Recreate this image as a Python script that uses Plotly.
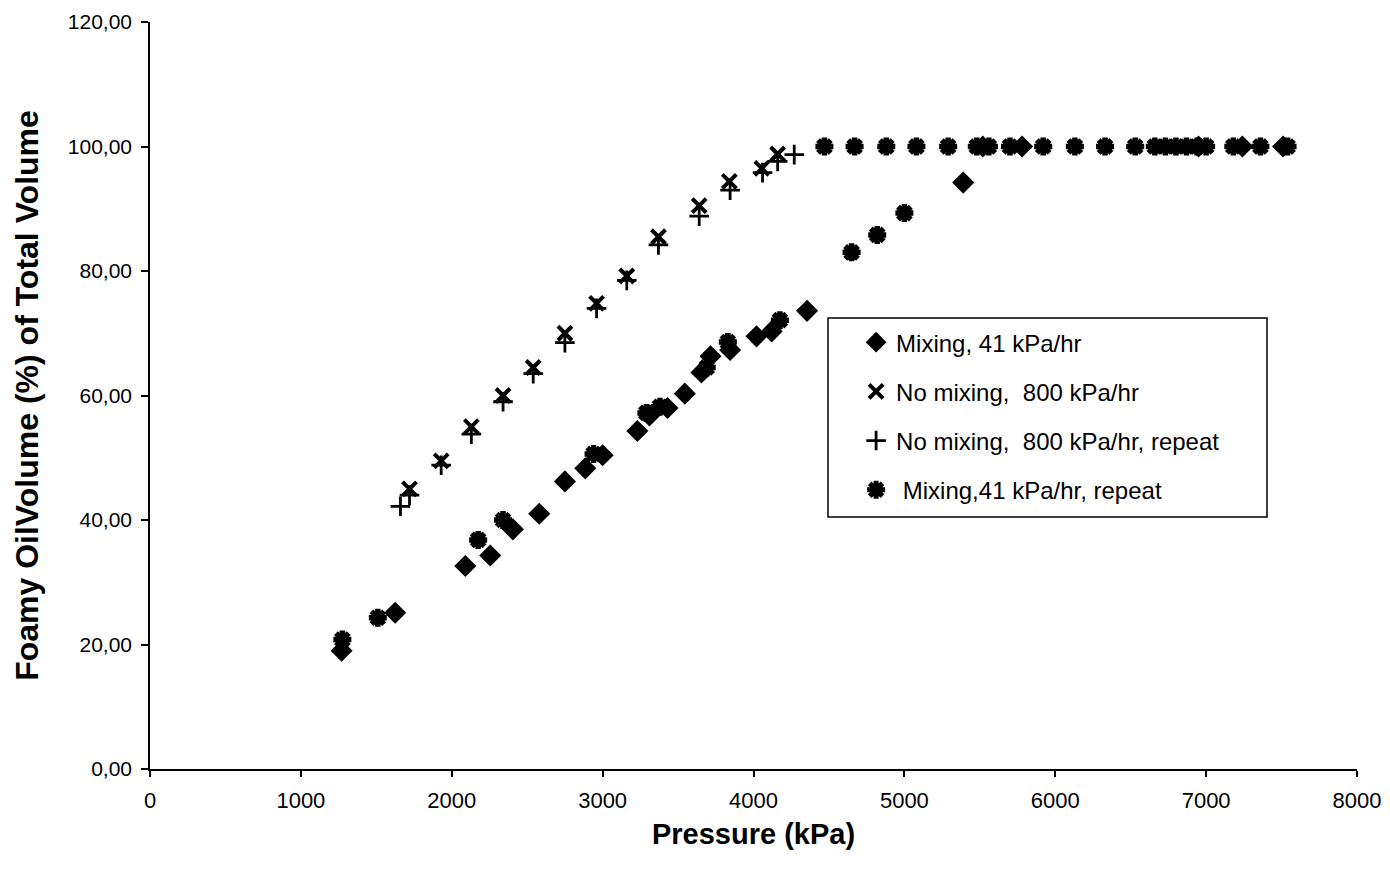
import plotly.graph_objects as go

# Mixing, 41 kPa/hr
mix_p = [1270, 1625, 2090, 2255, 2405, 2580, 2750, 2885, 3000, 3230, 3310, 3430, 3545, 3655, 3715,
         3845, 4020, 4120, 4355, 5390, 5520, 5780, 6950, 7240, 7510]
mix_v = [19.0, 25.1, 32.6, 34.3, 38.5, 41.0, 46.2, 48.3, 50.4, 54.3, 56.8, 58.0, 60.3, 63.7, 66.3,
         67.3, 69.5, 70.3, 73.6, 94.2, 100.0, 100.0, 100.0, 100.0, 100.0]

# No mixing, 800 kPa/hr
nomix_p = [1720, 1930, 2130, 2340, 2540, 2750, 2960, 3160, 3370, 3640, 3840, 4055, 4160]
nomix_v = [45.0, 49.5, 55.0, 60.0, 64.5, 70.0, 74.8, 79.2, 85.5, 90.5, 94.4, 96.5, 98.8]

# No mixing, 800 kPa/hr, repeat
nomixrep_p = [1660, 1720, 1930, 2130, 2340, 2540, 2750, 2960, 3160, 3370, 3640, 3845, 4060, 4160, 4270]
nomixrep_v = [42.2, 44.0, 48.8, 53.8, 59.0, 63.5, 68.5, 74.0, 78.5, 84.2, 88.8, 93.0, 95.8, 97.6, 98.7]

# Mixing, 41 kPa/hr, repeat
mixrep_p = [1275, 1510, 2175, 2340, 2940, 3290, 3380, 3690, 3830, 4175, 4650, 4820, 5000,
            4470, 4670, 4880, 5080, 5290, 5480, 5560, 5700, 5920, 6130, 6330, 6530, 6660,
            6730, 6800, 6870, 6940, 7000, 7180, 7360, 7540]
mixrep_v = [20.8, 24.3, 36.8, 40.0, 50.6, 57.2, 58.2, 64.5, 68.6, 72.1, 83.0, 85.8, 89.3,
            100.0, 100.0, 100.0, 100.0, 100.0, 100.0, 100.0, 100.0, 100.0, 100.0, 100.0, 100.0, 100.0,
            100.0, 100.0, 100.0, 100.0, 100.0, 100.0, 100.0, 100.0]

y_ticks = [0, 20, 40, 60, 80, 100, 120]
y_tick_text = ["0,00", "20,00", "40,00", "60,00", "80,00", "100,00", "120,00"]
x_ticks = [0, 1000, 2000, 3000, 4000, 5000, 6000, 7000, 8000]

FONT = "Liberation Sans, Arial, sans-serif"

fig = go.Figure()
fig.add_trace(go.Scatter(
    x=mix_p, y=mix_v, mode="markers", name="Mixing, 41 kPa/hr", legendgroup="a",
    marker=dict(symbol="diamond", size=17, color="black", line=dict(width=0))))
fig.add_trace(go.Scatter(
    x=nomix_p, y=nomix_v, mode="markers", name="No mixing,  800 kPa/hr", legendgroup="b",
    marker=dict(symbol="x-thin-open", size=14, color="black", line=dict(width=4, color="black"))))
fig.add_trace(go.Scatter(
    x=nomixrep_p, y=nomixrep_v, mode="markers", name="No mixing,  800 kPa/hr, repeat", legendgroup="c",
    marker=dict(symbol="cross-thin-open", size=14, color="black", line=dict(width=2.8, color="black"))))
fig.add_trace(go.Scatter(
    x=mixrep_p, y=mixrep_v, mode="markers", name=" Mixing,41 kPa/hr, repeat", legendgroup="d",
    marker=dict(symbol="asterisk-open", size=15, color="black", line=dict(width=5.5, color="black"))))

fig.update_layout(
    width=1390, height=874,
    margin=dict(l=150, r=33, t=22, b=105),
    paper_bgcolor="white", plot_bgcolor="white",
    font=dict(family=FONT, color="black", size=21),
    showlegend=True,
    legend=dict(
        x=0.585, y=0.601, xanchor="left", yanchor="top",
        bgcolor="rgba(0,0,0,0)", borderwidth=0,
        font=dict(family=FONT, size=24, color="black"),
        tracegroupgap=15, itemsizing="trace", itemwidth=30,
    ),
    shapes=[dict(type="rect", xref="paper", yref="paper",
                 x0=(828 - 150) / 1207, x1=(1267 - 150) / 1207,
                 y0=(769 - 517) / 747, y1=(769 - 318) / 747,
                 line=dict(color="black", width=1.5), fillcolor="rgba(0,0,0,0)")],
)
fig.update_xaxes(
    range=[0, 8000], tickvals=x_ticks, ticktext=[str(v) for v in x_ticks],
    showgrid=False, zeroline=False, showline=True, linecolor="black", linewidth=1.5,
    ticks="outside", ticklen=6, tickcolor="black", tickwidth=1.5, automargin=False,
    ticklabelstandoff=5,
    tickfont=dict(family=FONT, size=22, color="black"),
    title=dict(text="<b>Pressure (kPa)</b>", font=dict(family=FONT, size=29, color="black"), standoff=12),
)
fig.update_yaxes(
    range=[0, 120], tickvals=y_ticks, ticktext=y_tick_text,
    showgrid=False, zeroline=False, showline=True, linecolor="black", linewidth=1.5,
    ticks="outside", ticklen=7, tickcolor="black", tickwidth=1.5, ticklabelstandoff=5, automargin=False,
    tickfont=dict(family=FONT, size=21, color="black"),
    title=dict(text="<b>Foamy OilVolume (%) of Total Volume</b>", font=dict(family=FONT, size=32, color="black"), standoff=20),
)

fig.write_html("out.html")
